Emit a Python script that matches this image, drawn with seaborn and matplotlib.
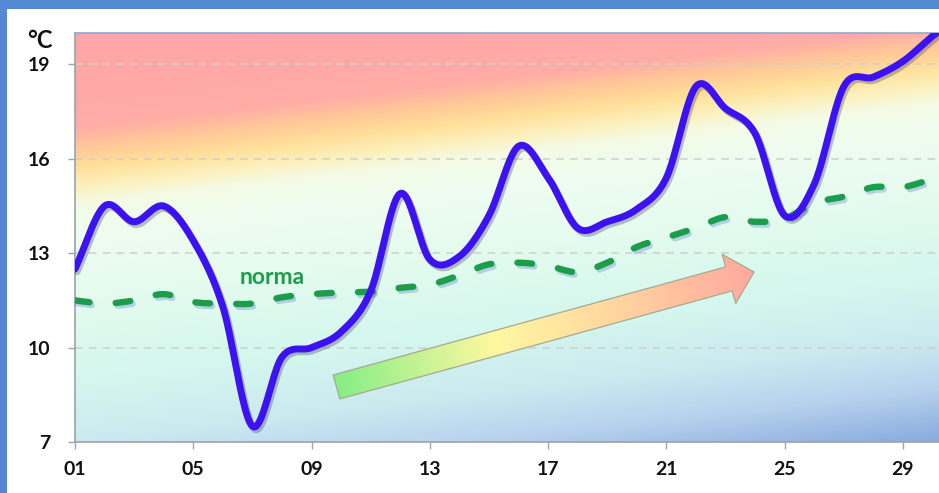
import numpy as np
import pandas as pd
import matplotlib
matplotlib.use("Agg")
import matplotlib.pyplot as plt
import seaborn as sns
from matplotlib.colors import LinearSegmentedColormap, Normalize
from matplotlib.patches import Polygon, Rectangle
import matplotlib.patheffects as pe

# Daily mean temperature (°C) and the climatological norm
days = list(range(1, 32))
temperature = [12.5, 14.5, 14.0, 14.5, 13.4, 11.3, 7.5, 9.7, 10.0, 10.5,
               11.8, 14.9, 12.8, 12.9, 14.2, 16.4, 15.4, 13.8, 14.0, 14.4,
               15.4, 18.3, 17.6, 16.8, 14.2, 15.2, 18.3, 18.6, 19.1, 19.9,
               20.6]
norma = [11.5, 11.4, 11.5, 11.7, 11.45, 11.4, 11.4, 11.6, 11.7, 11.75,
         11.78, 11.9, 12.0, 12.3, 12.65, 12.7, 12.6, 12.4, 12.7, 13.2,
         13.5, 13.8, 14.15, 14.0, 14.1, 14.6, 14.8, 15.1, 15.1, 15.35,
         15.5]
xtick_days = [1, 5, 9, 13, 17, 21, 25, 29]
xtick_labels = ["01", "05", "09", "13", "17", "21", "25", "29"]
ytick_values = [7, 10, 13, 16, 19]
norma_label = "norma"
unit_label = "°C"


def smooth_line(x, y, n=24):
    """Catmull-Rom rendering of a series (smoothed line style)."""
    x = np.asarray(x, float)
    y = np.asarray(y, float)
    px = np.r_[2 * x[0] - x[1], x, 2 * x[-1] - x[-2]]
    py = np.r_[2 * y[0] - y[1], y, 2 * y[-1] - y[-2]]
    t = np.linspace(0, 1, n, endpoint=False)
    xs, ys = [], []
    for i in range(1, len(px) - 2):
        for p, out in ((px, xs), (py, ys)):
            p0, p1, p2, p3 = p[i - 1], p[i], p[i + 1], p[i + 2]
            out.append(0.5 * (2 * p1 + (-p0 + p2) * t
                              + (2 * p0 - 5 * p1 + 4 * p2 - p3) * t ** 2
                              + (-p0 + 3 * p1 - 3 * p2 + p3) * t ** 3))
    xs.append([x[-1]])
    ys.append([y[-1]])
    return np.concatenate(xs), np.concatenate(ys)


sns.set_style("white")
plt.rcParams["font.family"] = ["Lato", "DejaVu Sans"]
plt.rcParams["font.weight"] = "bold"

W, H = 939, 493
fig = plt.figure(figsize=(W / 100, H / 100), dpi=100)
fig.patch.set_facecolor("white")

# frame of the slide
frame_blue = "#5389d3"
fig.add_artist(Rectangle((0, 1 - 9 / H), 1, 9 / H, transform=fig.transFigure,
                         facecolor=frame_blue, edgecolor="none"))
fig.add_artist(Rectangle((0, 0), 7 / W, 1, transform=fig.transFigure,
                         facecolor=frame_blue, edgecolor="none"))

ax_l, ax_r, ax_b, ax_t = 75, 939, 442, 33
ax = fig.add_axes([ax_l / W, (H - ax_b) / H, (ax_r - ax_l) / W, (ax_b - ax_t) / H])

# background colour gradient (tilted bands)
tilt = 0.25
gw, gh = 600, 300
u = np.linspace(0, 1, gw)[None, :]
v = np.linspace(1, 0, gh)[:, None]
tt = v - tilt * u
stops = [(-0.25, "#88acde"), (-0.12, "#b8d2ee"), (0.0, "#cbeaf0"),
         (0.15, "#d4f7ee"), (0.35, "#e4fbee"), (0.5, "#eefdf0"),
         (0.58, "#f4fbe6"), (0.62, "#fcf2c0"), (0.67, "#ffe09a"),
         (0.72, "#ffc898"), (0.77, "#ffaca6"), (1.0, "#ffa4a8")]
bg_cmap = LinearSegmentedColormap.from_list(
    "bg", [((s + tilt) / (1 + tilt), c) for s, c in stops])
ax.imshow(bg_cmap(Normalize(-tilt, 1.0)(tt)), extent=[0, 1, 0, 1],
          transform=ax.transAxes, aspect="auto", zorder=0, interpolation="bilinear")

# horizontal dashed grid
for yv in ytick_values[1:]:
    ax.axhline(yv, color="#cfcfcf", lw=1.1, dashes=(5, 4), zorder=1)


# gradient trend arrow
def to_axes(px, py):
    return ((px - ax_l) / (ax_r - ax_l), (ax_b - py) / (ax_b - ax_t))


tail = np.array([336.5, 387.0])
tip = np.array([754.0, 272.0])
d = tip - tail
L = np.hypot(*d)
e = d / L
nrm = np.array([e[1], -e[0]])
neck = tip - e * 26
sw, hw = 12.4, 25.5
pts_px = [tail + nrm * sw, neck + nrm * sw, neck + nrm * hw, tip,
          neck - nrm * hw, neck - nrm * sw, tail - nrm * sw]
pts_ax = [to_axes(*p) for p in pts_px]
arrow = Polygon(pts_ax, closed=True, transform=ax.transAxes,
                facecolor="none", edgecolor="#a8a890", lw=0.9, zorder=3)
ax.add_patch(arrow)
gx = ax_l + u * (ax_r - ax_l)
gy = ax_b - v * (ax_b - ax_t)
s = ((gx - tail[0]) * e[0] + (gy - tail[1]) * e[1]) / L
arrow_cmap = LinearSegmentedColormap.from_list(
    "arrow", [(0, "#86ee86"), (0.38, "#fff8a0"), (0.65, "#ffd8a0"), (1, "#ffa89e")])
arrow_img = ax.imshow(arrow_cmap(np.clip(s, 0, 1)), extent=[0, 1, 0, 1],
                      transform=ax.transAxes, aspect="auto", zorder=2,
                      interpolation="bilinear")
arrow_img.set_clip_path(arrow)

# norm (dashed green) and observed temperature (blue)
nx, ny = smooth_line(days, norma)
tx, ty = smooth_line(days, temperature)
df_norm = pd.DataFrame({"day": nx, "temp": ny})
df_temp = pd.DataFrame({"day": tx, "temp": ty})

sns.lineplot(data=df_norm, x="day", y="temp", sort=False, estimator=None,
             color="#1b9e4b", lw=4.6, ax=ax, zorder=4)
ln_norm = ax.lines[-1]
ln_norm.set_dashes((2.3, 4.1))
ln_norm.set_dash_capstyle("round")
ln_norm.set_path_effects([pe.SimpleLineShadow(offset=(1.5, -2), shadow_color="#4a6fd0",
                                              alpha=0.3),
                          pe.Normal()])

sns.lineplot(data=df_temp, x="day", y="temp", sort=False, estimator=None,
             color="#3d12f2", lw=5.0, ax=ax, zorder=5)
ln_temp = ax.lines[-1]
ln_temp.set_solid_capstyle("round")
ln_temp.set_solid_joinstyle("round")
ln_temp.set_path_effects([pe.SimpleLineShadow(offset=(1.5, -2), shadow_color="#303050",
                                              alpha=0.3),
                          pe.Normal()])

ax.text(7.66, 12.24, norma_label, color="#1b9e4b", fontsize=16.5,
        fontweight="bold", ha="center", va="center", zorder=6)

ax.set_xlim(1, 1 + (ax_r - ax_l) / 29.57)
ax.set_ylim(7, 20.0)
ax.set_xticks(xtick_days)
ax.set_xticklabels(xtick_labels)
ax.set_yticks(ytick_values)
ax.set_yticklabels([str(v) for v in ytick_values])
ax.set_xlabel("")
ax.set_ylabel("")
ax.tick_params(axis="both", which="major", length=5, width=1, color="#a0a4aa",
               labelsize=14, labelcolor="#111111", direction="out")
ax.tick_params(axis="x", pad=9, bottom=True)
ax.tick_params(axis="y", pad=13, left=True)
for lab in ax.get_xticklabels() + ax.get_yticklabels():
    lab.set_fontweight("bold")

for side in ("left", "bottom"):
    ax.spines[side].set_color("#9aa2ac")
    ax.spines[side].set_linewidth(1.2)
ax.spines["top"].set_color("#8eaad0")
ax.spines["top"].set_linewidth(1.2)
ax.spines["right"].set_visible(False)

fig.text(40 / W, 1 - 40 / H, unit_label, fontsize=17, fontweight="bold",
         ha="center", va="center", color="#111111")

fig.savefig("out.png", dpi=100)
